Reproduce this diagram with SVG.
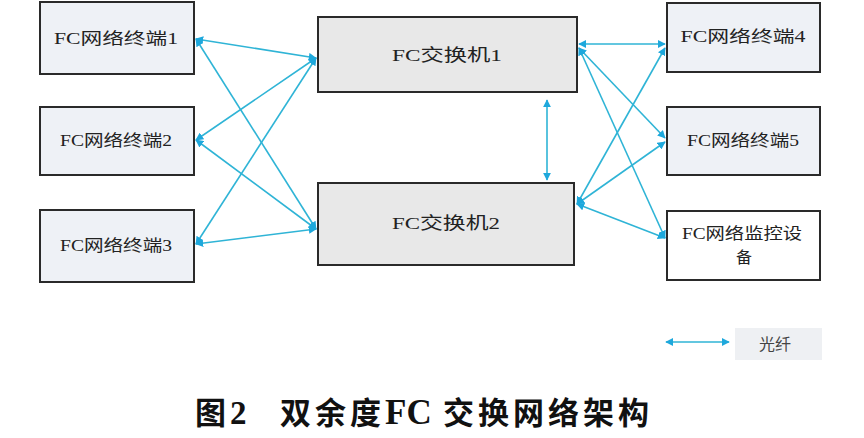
<svg xmlns="http://www.w3.org/2000/svg" width="864" height="438" viewBox="0 0 864 438">
<style>
.term{fill:#eef1f6;stroke:#2a2a2a;stroke-width:2}
.sw{fill:#e8e8e8;stroke:#2a2a2a;stroke-width:2}
.lbl{font-family:"Liberation Serif","Noto Sans CJK SC",serif;font-size:16px;fill:#222;text-anchor:middle}
.swl{font-family:"Liberation Serif","Noto Sans CJK SC",serif;font-size:17px;fill:#222;text-anchor:middle}
.cn{stroke:#2fb4d6;stroke-width:1.6;fill:none;marker-start:url(#ah);marker-end:url(#ah)}
.cap{font-family:"Liberation Serif","Noto Sans CJK SC",serif;font-size:31px;font-weight:bold;fill:#111}
.capz{font-family:"Noto Sans CJK SC",sans-serif}
</style>
<defs>
<marker id="ah" viewBox="0 0 10 10" refX="9" refY="5" markerWidth="8" markerHeight="8" orient="auto-start-reverse" markerUnits="userSpaceOnUse">
<path d="M0,0 L10,5 L0,10 z" fill="#1ea8dc"/>
</marker>
</defs>
<rect width="864" height="438" fill="#ffffff"/>
<g id="connectors">
<line class="cn" x1="196" y1="39" x2="316" y2="58"/>
<line class="cn" x1="196" y1="39" x2="316" y2="229"/>
<line class="cn" x1="196" y1="140" x2="316" y2="58"/>
<line class="cn" x1="196" y1="140" x2="316" y2="229"/>
<line class="cn" x1="196" y1="244" x2="316" y2="58"/>
<line class="cn" x1="196" y1="244" x2="316" y2="229"/>
<line class="cn" x1="579" y1="44" x2="665" y2="44"/>
<line class="cn" x1="579" y1="48" x2="665" y2="138"/>
<line class="cn" x1="579" y1="48" x2="665" y2="238"/>
<line class="cn" x1="577" y1="204" x2="665" y2="48"/>
<line class="cn" x1="577" y1="204" x2="665" y2="142"/>
<line class="cn" x1="577" y1="204" x2="665" y2="238"/>
<line class="cn" x1="547" y1="100" x2="547" y2="180"/>
</g>
<g id="term1"><rect class="term" x="40" y="2" width="154" height="72"/><text class="lbl" x="116" y="44" textLength="124" lengthAdjust="spacingAndGlyphs">FC网络终端1</text></g>
<g id="term2"><rect class="term" x="40" y="107" width="154" height="68"/><text class="lbl" x="116" y="146" textLength="112" lengthAdjust="spacingAndGlyphs">FC网络终端2</text></g>
<g id="term3"><rect class="term" x="40" y="210" width="154" height="72"/><text class="lbl" x="116" y="251" textLength="112" lengthAdjust="spacingAndGlyphs">FC网络终端3</text></g>
<g id="switch1"><rect class="sw" x="318" y="17" width="259" height="75"/><text class="swl" x="447" y="61" textLength="110" lengthAdjust="spacingAndGlyphs">FC交换机1</text></g>
<g id="switch2"><rect class="sw" x="318" y="183" width="256" height="82"/><text class="swl" x="446" y="229" textLength="108" lengthAdjust="spacingAndGlyphs">FC交换机2</text></g>
<g id="term4"><rect class="term" x="667" y="3" width="153" height="69"/><text class="lbl" x="743" y="42" textLength="125" lengthAdjust="spacingAndGlyphs">FC网络终端4</text></g>
<g id="term5"><rect class="term" x="667" y="107" width="153" height="68"/><text class="lbl" x="743" y="146" textLength="112" lengthAdjust="spacingAndGlyphs">FC网络终端5</text></g>
<g id="monitor"><rect class="term" x="667" y="211" width="153" height="69" style="fill:#ffffff"/><text class="lbl" x="742" y="239" textLength="120" lengthAdjust="spacingAndGlyphs">FC网络监控设</text><text class="lbl" x="744" y="263">备</text></g>
<g id="legend">
<line class="cn" x1="666" y1="342" x2="729" y2="342"/>
<rect x="735" y="328" width="87" height="32" fill="#eef0f3"/>
<text class="lbl" x="775" y="350" style="fill:#444">光纤</text>
</g>
<g id="caption">
<text class="cap" y="424"><tspan class="capz" x="195">图</tspan><tspan x="230" font-size="33">2</tspan><tspan class="capz" x="280" letter-spacing="4">双余度</tspan><tspan x="385" font-size="35">FC</tspan><tspan class="capz" x="443" letter-spacing="4">交换网络架构</tspan></text>
</g>
</svg>
